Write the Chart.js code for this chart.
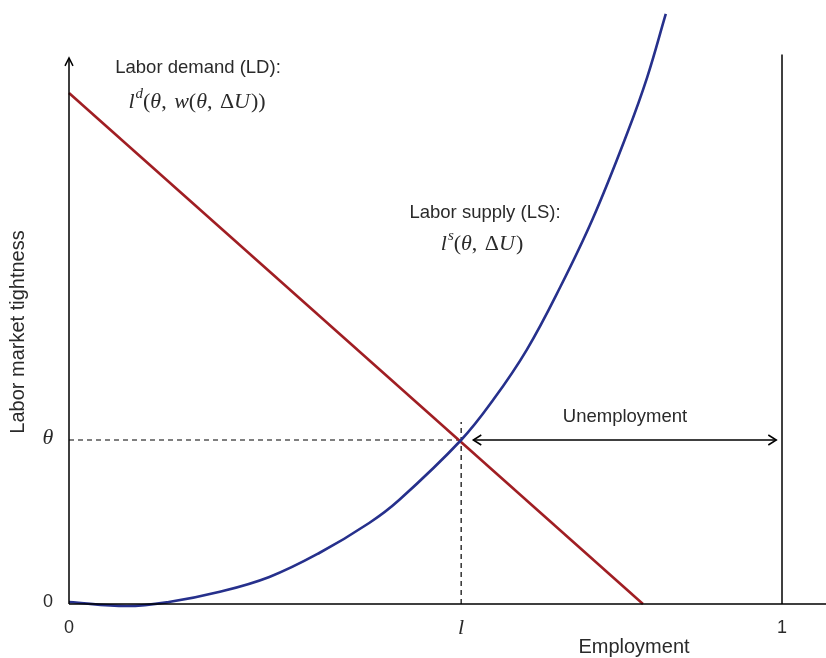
<!DOCTYPE html>
<html>
<head>
<meta charset="utf-8">
<script src="https://cdn.jsdelivr.net/npm/chart.js@4.4.1/dist/chart.umd.min.js"></script>
<style>
  body { margin: 0; background: #fff; }
  #wrap { width: 826px; height: 658px; }
</style>
</head>
<body>
<div id="wrap"><canvas id="chart" width="826" height="658"></canvas></div>
<script>
// Datos (empleo en x, tension del mercado en y, theta = 1)
const supplyX = [0, 0.081, 0.140, 0.210, 0.281, 0.351, 0.421, 0.463, 0.550, 0.595, 0.642, 0.689, 0.735, 0.783, 0.811, 0.837];
const supplyY = [0.012, -0.012, 0.012, 0.073, 0.165, 0.311, 0.494, 0.634, 1.0, 1.245, 1.55, 1.933, 2.354, 2.872, 3.213, 3.598];
const demandX = [0, 0.805];
const demandY = [3.116, 0];

const lStar = 0.55;
const thetaStar = 1;
const xTickValues = [0, lStar, 1];
const xTickLabels = ['0', 'l', '1'];
const yTickValues = [0, thetaStar];
const yTickLabels = ['0', 'θ'];

const toPoints = (xs, ys) => xs.map((x, i) => ({ x: x, y: ys[i] }));

const SANS = '"Liberation Sans", Arial, sans-serif';
const SERIF = '"Liberation Serif", "Times New Roman", serif';
const TXT = '#2a2a2a';

// Dibuja una linea de texto con varios tramos (para las formulas)
function drawRuns(ctx, runs, cx, y) {
    let total = 0;
    runs.forEach(r => { ctx.font = r.font; total += ctx.measureText(r.t).width + (r.gap || 0); });
    let x = cx - total / 2;
    ctx.textAlign = 'left';
    runs.forEach(r => {
        ctx.font = r.font;
        ctx.fillText(r.t, x, y + (r.dy || 0));
        x += ctx.measureText(r.t).width + (r.gap || 0);
    });
}

function arrowHead(ctx, x, y, dir) {
    ctx.beginPath();
    if (dir === 'up') { ctx.moveTo(x - 4, y + 8); ctx.lineTo(x, y); ctx.lineTo(x + 4, y + 8); }
    if (dir === 'left') { ctx.moveTo(x + 8, y - 5); ctx.lineTo(x, y); ctx.lineTo(x + 8, y + 5); }
    if (dir === 'right') { ctx.moveTo(x - 8, y - 5); ctx.lineTo(x, y); ctx.lineTo(x - 8, y + 5); }
    ctx.stroke();
}

const decorPlugin = {
    id: 'decor',
    afterDatasetsDraw(chart) {
        const ctx = chart.ctx;
        const xs = chart.scales.x, ys = chart.scales.y;
        const px = v => xs.getPixelForValue(v);
        const py = v => ys.getPixelForValue(v);
        ctx.save();
        ctx.strokeStyle = '#000';
        ctx.lineWidth = 1.5;
        ctx.setLineDash([]);

        // Ejes
        ctx.beginPath();
        ctx.moveTo(px(0), py(0)); ctx.lineTo(px(0), py(3.33));
        ctx.moveTo(px(0), py(0)); ctx.lineTo(xs.right, py(0));
        ctx.stroke();
        arrowHead(ctx, px(0), py(3.33), 'up');

        // Flecha de desempleo
        const ay = py(thetaStar);
        ctx.beginPath();
        ctx.moveTo(px(0.567), ay); ctx.lineTo(px(0.992), ay);
        ctx.stroke();
        arrowHead(ctx, px(0.567), ay, 'left');
        arrowHead(ctx, px(0.992), ay, 'right');

        // Etiquetas de ticks
        ctx.fillStyle = TXT;
        ctx.textBaseline = 'middle';
        xTickValues.forEach((v, i) => {
            ctx.textAlign = 'center';
            ctx.font = xTickLabels[i] === 'l' ? 'italic 22px ' + SERIF : '18px ' + SANS;
            ctx.fillText(xTickLabels[i], px(v), 628);
        });
        yTickValues.forEach((v, i) => {
            ctx.textAlign = 'center';
            ctx.font = yTickLabels[i] === 'θ' ? 'italic 22px ' + SERIF : '18px ' + SANS;
            ctx.fillText(yTickLabels[i], 48, py(v) - 2);
        });

        // Titulos de ejes
        ctx.font = '20px ' + SANS;
        ctx.textAlign = 'center';
        ctx.fillText('Employment', 634, 647);
        ctx.save();
        ctx.translate(18, 332);
        ctx.rotate(-Math.PI / 2);
        ctx.fillText('Labor market tightness', 0, 0);
        ctx.restore();

        // Anotaciones
        ctx.font = '18.5px ' + SANS;
        ctx.fillText('Labor demand (LD):', 198, 68);
        ctx.fillText('Labor supply (LS):', 485, 213);
        ctx.fillText('Unemployment', 625, 417);

        const it = 'italic 22px ' + SERIF, up = '22px ' + SERIF, sup = 'italic 15px ' + SERIF;
        drawRuns(ctx, [
            { t: 'l', font: it, gap: 1 }, { t: 'd', font: sup, dy: -8 }, { t: '(', font: up },
            { t: 'θ', font: it }, { t: ', ', font: up, gap: 2 }, { t: 'w', font: it }, { t: '(', font: up },
            { t: 'θ', font: it }, { t: ', ', font: up, gap: 2 }, { t: 'Δ', font: up }, { t: 'U', font: it, gap: 1 }, { t: '))', font: up }
        ], 197, 102);
        drawRuns(ctx, [
            { t: 'l', font: it, gap: 1 }, { t: 's', font: sup, dy: -8 }, { t: '(', font: up },
            { t: 'θ', font: it }, { t: ', ', font: up, gap: 2 }, { t: 'Δ', font: up }, { t: 'U', font: it, gap: 1 }, { t: ')', font: up }
        ], 482, 244);
        ctx.restore();
    }
};

new Chart(document.getElementById('chart'), {
    type: 'scatter',
    data: {
        datasets: [
            {
                label: 'LS',
                data: toPoints(supplyX, supplyY),
                showLine: true,
                borderColor: 'rgb(38, 48, 140)',
                borderWidth: 2.6,
                pointRadius: 0,
                tension: 0.4,
                clip: false
            },
            {
                label: 'LD',
                data: toPoints(demandX, demandY),
                showLine: true,
                borderColor: 'rgb(160, 30, 35)',
                borderWidth: 2.6,
                pointRadius: 0,
                clip: false
            },
            {
                label: 'theta',
                data: [{ x: 0, y: thetaStar }, { x: lStar, y: thetaStar }],
                showLine: true,
                borderColor: '#000',
                borderWidth: 1.2,
                borderDash: [5, 4],
                pointRadius: 0
            },
            {
                label: 'lstar',
                data: [{ x: lStar, y: 0 }, { x: lStar, y: 1.11 }],
                showLine: true,
                borderColor: '#000',
                borderWidth: 1.2,
                borderDash: [5, 4],
                pointRadius: 0
            },
            {
                label: 'uno',
                data: [{ x: 1, y: 0 }, { x: 1, y: 3.35 }],
                showLine: true,
                borderColor: '#000',
                borderWidth: 1.5,
                pointRadius: 0
            }
        ]
    },
    options: {
        responsive: false,
        animation: false,
        layout: { padding: { left: 69, right: 0, top: 0, bottom: 54 } },
        plugins: { legend: { display: false }, tooltip: { enabled: false } },
        scales: {
            x: { type: 'linear', min: 0, max: 1.0617, display: false },
            y: { type: 'linear', min: 0, max: 3.683, display: false }
        }
    },
    plugins: [decorPlugin]
});
</script>
</body>
</html>
